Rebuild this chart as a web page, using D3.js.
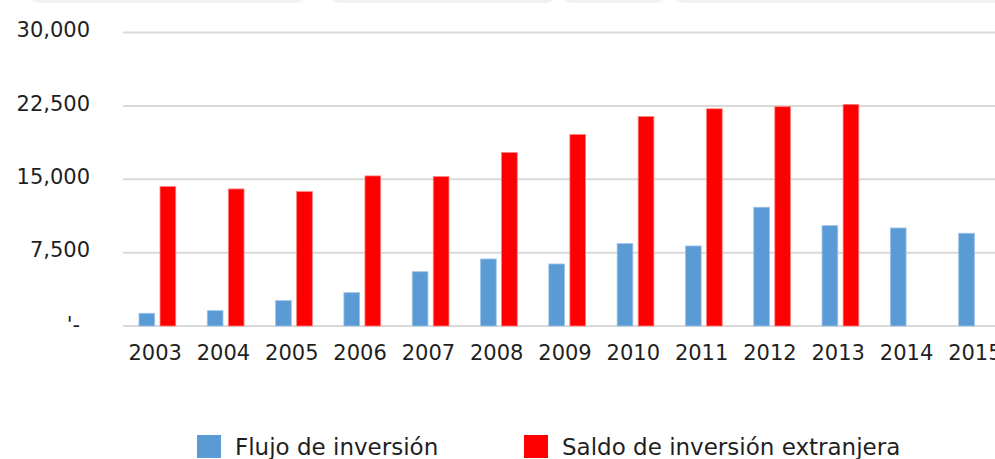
<!DOCTYPE html>
<html>
<head>
<meta charset="utf-8">
<script src="https://cdn.jsdelivr.net/npm/d3@7"></script>
<style>
  html, body { margin: 0; padding: 0; background: #fff; overflow: hidden; }
  svg { display: block; font-family: "DejaVu Sans", sans-serif; }
</style>
</head>
<body>
<svg id="chart" width="995" height="459"></svg>
<script>
const years = ["2003","2004","2005","2006","2007","2008","2009","2010","2011","2012","2013","2014","2015"];
const flujo = [1300, 1570, 2590, 3410, 5550, 6850, 6340, 8420, 8180, 12140, 10260, 10020, 9480];
const saldo = [14250, 14010, 13740, 15340, 15270, 17730, 19570, 21410, 22200, 22420, 22650, null, null];
const yTicks = [0, 7500, 15000, 22500, 30000];
const seriesNames = ["Flujo de inversión", "Saldo de inversión extranjera"];
const seriesColors = ["#5B9BD5", "#FF0000"];

const svg = d3.select("#chart");
const W = 995;

// faint shapes at the very top edge
const topShapes = [[30, 305], [330, 555], [562, 665], [675, 1010]];
svg.append("g").selectAll("rect").data(topShapes).join("rect")
  .attr("x", d => d[0]).attr("y", -14).attr("width", d => d[1] - d[0]).attr("height", 17)
  .attr("rx", 9).attr("fill", "#f1f1f4");

const x = d3.scaleBand().domain(years).range([123, 1011]).padding(0);
const y = d3.scaleLinear().domain([0, 30000]).range([326, 32.5]);

// gridlines
const grid = svg.append("g");
grid.selectAll("line").data(yTicks).join("line")
  .attr("x1", 123).attr("x2", W)
  .attr("y1", d => y(d)).attr("y2", d => y(d))
  .attr("stroke", "#d9d9d9").attr("stroke-width", 2);

// y axis labels
const yAxis = d3.axisLeft(y).tickValues(yTicks).tickSize(0)
  .tickFormat(d => d === 0 ? "'-" : d3.format(",")(d));
const gy = svg.append("g").attr("transform", "translate(90,0)").call(yAxis);
gy.select(".domain").remove();
gy.selectAll("text").attr("x", 0).attr("dy", "0.2em")
  .attr("font-size", 21).attr("fill", "#1f1f1f").attr("font-family", "DejaVu Sans, sans-serif");
gy.selectAll(".tick").filter(d => d === 0).select("text").attr("x", -10).attr("dy", "0.25em");

// bars
const bw = x.bandwidth();
const barW = bw * 0.23;
const offs = [bw * 0.234, bw * 0.542];
[flujo, saldo].forEach((vals, i) => {
  svg.append("g").selectAll("rect")
    .data(years.map((yr, j) => ({ yr, v: vals[j] })).filter(d => d.v != null))
    .join("rect")
    .attr("x", d => x(d.yr) + offs[i])
    .attr("y", d => y(d.v))
    .attr("width", barW)
    .attr("height", d => y(0) - y(d.v))
    .attr("fill", seriesColors[i])
    .attr("stroke", i === 0 ? "#9fc3e8" : "#ff8080")
    .attr("stroke-width", 0.8);
});

// x axis labels
const xAxis = d3.axisBottom(x).tickSize(0);
const gx = svg.append("g").attr("transform", "translate(-2,340)").call(xAxis);
gx.select(".domain").remove();
gx.selectAll("text").attr("y", 0).attr("dy", "0.95em")
  .attr("font-size", 21).attr("fill", "#1f1f1f").attr("font-family", "DejaVu Sans, sans-serif");

// legend
const legendPos = [[197, 235], [524, 562]];
const lg = svg.append("g");
seriesNames.forEach((name, i) => {
  lg.append("rect").attr("x", legendPos[i][0]).attr("y", 435)
    .attr("width", 24).attr("height", 23).attr("fill", seriesColors[i]);
  lg.append("text").attr("x", legendPos[i][1]).attr("y", 455)
    .attr("font-size", 23).attr("fill", "#1f1f1f").text(name);
});
</script>
</body>
</html>
